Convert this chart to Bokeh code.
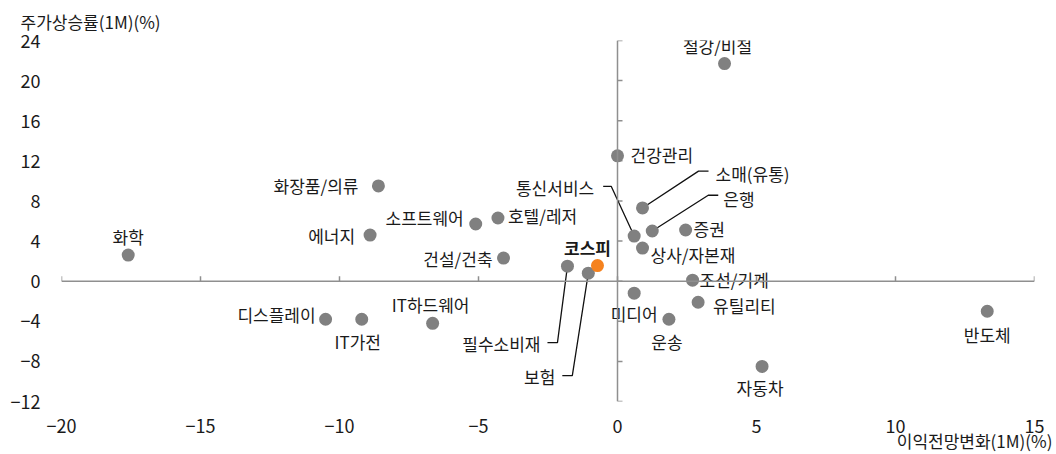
from bokeh.plotting import figure
from bokeh.models import ColumnDataSource, FixedTicker, Range1d, Span, Title
from bokeh.embed import file_html
from bokeh.resources import INLINE
from bokeh.core.properties import value

# ---------------- data ----------------
sectors = ["화학", "화장품/의류", "에너지", "소프트웨어", "호텔/레저", "건설/건축",
           "필수소비재", "보험", "건강관리", "통신서비스", "소매(유통)", "은행",
           "상사/자본재", "증권", "조선/기계", "미디어", "유틸리티", "운송",
           "자동차", "반도체", "철강/비철", "디스플레이", "IT가전", "IT하드웨어"]
earn_chg = [-17.6, -8.6, -8.9, -5.1, -4.3, -4.1,
            -1.8, -1.05, 0.0, 0.6, 0.9, 1.25,
            0.9, 2.45, 2.7, 0.6, 2.9, 1.85,
            5.2, 13.3, 3.85, -10.5, -9.2, -6.65]
price_chg = [2.6, 9.5, 4.6, 5.7, 6.3, 2.3,
             1.5, 0.8, 12.5, 4.5, 7.3, 5.0,
             3.3, 5.1, 0.1, -1.2, -2.1, -3.8,
             -8.5, -3.0, 21.7, -3.8, -3.8, -4.2]
kospi_name = "코스피"
kospi_x = -0.72
kospi_y = 1.55

x_ticks = [-20, -15, -10, -5, 0, 5, 10, 15]
y_ticks = [-12, -8, -4, 0, 4, 8, 12, 16, 20, 24]
x_title = "이익전망변화(1M)(%)"
y_title = "주가상승률(1M)(%)"

# ---------------- layout / style ----------------
FONT = "Noto Sans CJK KR"
FS = "17px"
TICK_FS = "18px"
TXT = "#1a1a1a"
W, H = 1056, 454
BL, BR, BT, BB = 61, 22, 38, 53
X0, X1, Y0, Y1 = -20, 15, -12, 24
PX_X = (W - BL - BR) / (X1 - X0)
PX_Y = (H - BT - BB) / (Y1 - Y0)
TICK = 5

# label placement: align, dx(px), dy(px, down positive), optional leader polyline offsets
label_layout = {
    "화학": ("center", 0, -19, None),
    "화장품/의류": ("right", -20, 0, None),
    "에너지": ("right", -15, 0, None),
    "소프트웨어": ("right", -12, -7, None),
    "호텔/레저": ("left", 10, -2, None),
    "건설/건축": ("right", -11, 0, None),
    "필수소비재": ("right", -27, 77, [(-20, 77), (-10, 77), (0, 0)]),
    "보험": ("right", -33, 103, [(-26, 103), (-16, 103), (0, 0)]),
    "건강관리": ("left", 13, -1, None),
    "통신서비스": ("right", -40, -49, [(-31, -50), (-23, -50), (0, 0)]),
    "소매(유통)": ("left", 73, -34, [(66, -37), (56, -37), (0, 0)]),
    "은행": ("left", 71, -33, [(66, -36), (56, -36), (0, 0)]),
    "상사/자본재": ("left", 8, 6, None),
    "증권": ("left", 8, -2, None),
    "조선/기계": ("left", 7, -1, None),
    "미디어": ("center", 0, 20, None),
    "유틸리티": ("left", 15, 3, None),
    "운송": ("center", -2, 22, None),
    "자동차": ("center", -2, 21, None),
    "반도체": ("center", 0, 23, None),
    "철강/비철": ("center", -7, -18, None),
    "디스플레이": ("right", -10, -5, None),
    "IT가전": ("center", -4, 22, None),
    "IT하드웨어": ("center", -2, -19, None),
}

aligns, dxs, dys = [], [], []
line_xs, line_ys = [], []
for name, x, y in zip(sectors, earn_chg, price_chg):
    a, dx, dy, pts = label_layout[name]
    aligns.append(a)
    dxs.append(dx)
    dys.append(dy)
    if pts:
        line_xs.append([x + px / PX_X for px, py in pts])
        line_ys.append([y - py / PX_Y for px, py in pts])

src = ColumnDataSource(dict(x=earn_chg, y=price_chg, name=sectors,
                            align=aligns, dx=dxs, dy=dys))

p = figure(width=W, height=H,
           x_range=Range1d(X0, X1), y_range=Range1d(Y0, Y1),
           output_backend="svg", toolbar_location=None,
           min_border_left=BL, min_border_right=BR,
           min_border_top=BT, min_border_bottom=BB,
           background_fill_color="white", border_fill_color="white")
p.outline_line_color = None
p.xgrid.visible = False
p.ygrid.visible = False

def minus(t):
    return str(t).replace("-", "\u2212")

# edge axes: labels only
for ax, ticks, standoff in ((p.xaxis[0], x_ticks, 17), (p.yaxis[0], y_ticks, 21)):
    ax.ticker = FixedTicker(ticks=ticks)
    ax.major_label_overrides = {t: minus(t) for t in ticks}
    ax.axis_line_color = None
    ax.major_tick_line_color = None
    ax.minor_tick_line_color = None
    ax.major_tick_out = 0
    ax.major_tick_in = 0
    ax.major_label_standoff = standoff
    ax.major_label_text_font = FONT
    ax.major_label_text_font_size = TICK_FS
    ax.major_label_text_color = TXT

# crossing axis lines through the origin with inward ticks
AX_COL = "#8f8f8f"
p.add_layout(Span(location=0, dimension="width", line_color=AX_COL, line_width=1.5))
p.add_layout(Span(location=0, dimension="height", line_color=AX_COL, line_width=1.5))
p.segment(x0=x_ticks, y0=[0] * len(x_ticks), x1=x_ticks, y1=[TICK / PX_Y] * len(x_ticks),
          line_color=AX_COL, line_width=1.5)
p.segment(x0=[0] * len(y_ticks), y0=y_ticks, x1=[TICK / PX_X] * len(y_ticks), y1=y_ticks,
          line_color=AX_COL, line_width=1.5)

# leader lines
p.multi_line(xs=line_xs, ys=line_ys, line_color="#111111", line_width=1.3)

# sector points
p.scatter("x", "y", source=src, size=13, fill_color="#808080", line_color=None)

# KOSPI
p.scatter([kospi_x], [kospi_y], size=13, fill_color="#f5821f", line_color=None)

# labels
p.text("x", "y", text="name", source=src, x_offset="dx", y_offset="dy",
       text_align="align", text_baseline="middle",
       text_font=value(FONT), text_font_size=FS, text_color=TXT)
p.text([kospi_x], [kospi_y], text=[kospi_name], x_offset=-10, y_offset=-18,
       text_align="center", text_baseline="middle",
       text_font=value(FONT), text_font_size=FS, text_font_style="bold",
       text_color=TXT)

# axis titles
p.add_layout(Title(text=y_title, align="left", offset=-41, standoff=13,
                   text_font=FONT, text_font_size=FS, text_color=TXT,
                   text_font_style="normal"), "above")
p.add_layout(Title(text=x_title, align="right", offset=-18, standoff=-20,
                   text_font=FONT, text_font_size=FS, text_color=TXT,
                   text_font_style="normal"), "below")

open("out.html", "w").write(file_html(p, INLINE))
